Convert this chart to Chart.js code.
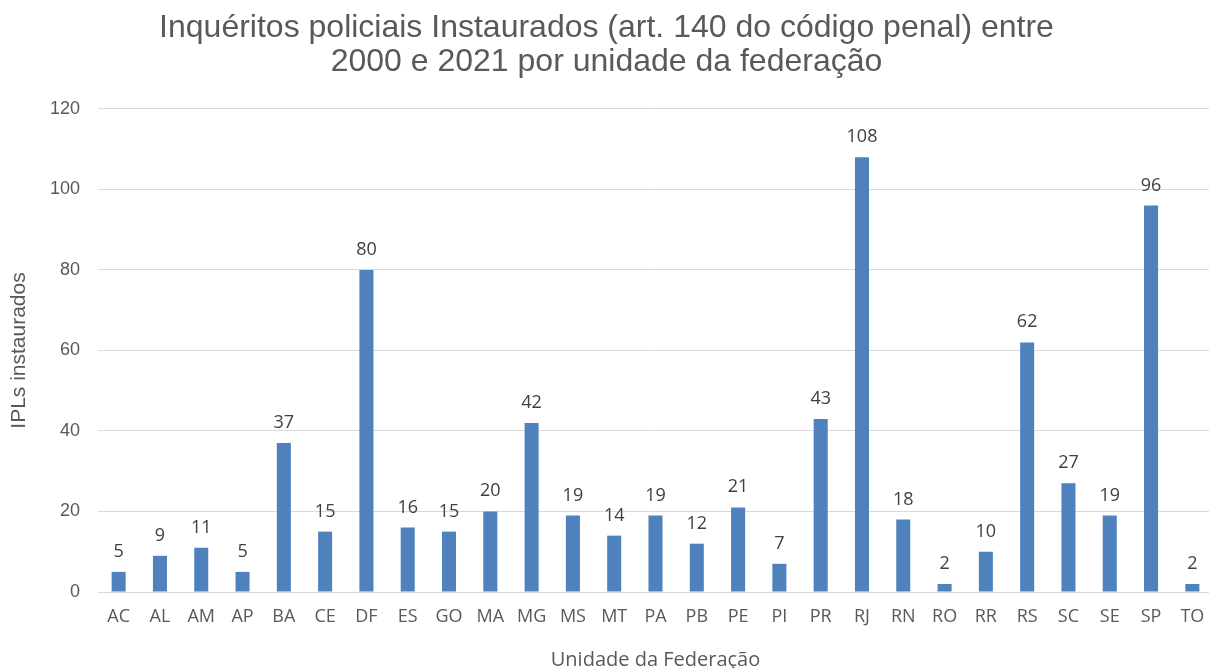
<!DOCTYPE html>
<html>
<head>
<meta charset="utf-8">
<script src="https://cdn.jsdelivr.net/npm/chart.js@4"></script>
<style>
    html, body { margin: 0; padding: 0; background: #ffffff; overflow: hidden; }
    #wrap { width: 1213px; height: 672px; }
</style>
</head>
<body>
<div id="wrap"><canvas id="ufChart"></canvas></div>
<script>
const ufLabels = ["AC", "AL", "AM", "AP", "BA", "CE", "DF", "ES", "GO", "MA", "MG", "MS", "MT", "PA",
    "PB", "PE", "PI", "PR", "RJ", "RN", "RO", "RR", "RS", "SC", "SE", "SP", "TO"];
const iplCounts = [5, 9, 11, 5, 37, 15, 80, 16, 15, 20, 42, 19, 14, 19,
    12, 21, 7, 43, 108, 18, 2, 10, 62, 27, 19, 96, 2];
const yTicks = [0, 20, 40, 60, 80, 100, 120];

// value labels above each bar
const barValues = {
    id: "barValues",
    afterDatasetsDraw(chart) {
        const { ctx } = chart;
        const meta = chart.getDatasetMeta(0);
        ctx.save();
        ctx.fillStyle = "#404040";
        ctx.font = "18px 'Open Sans'";
        ctx.textAlign = "center";
        ctx.textBaseline = "alphabetic";
        meta.data.forEach((bar, i) => {
            ctx.fillText(String(iplCounts[i]), bar.x, bar.y - 15);
        });
        ctx.restore();
    }
};

new Chart(document.getElementById("ufChart"), {
    type: "bar",
    data: {
        labels: ufLabels,
        datasets: [{
            label: "IPLs instaurados",
            data: iplCounts,
            backgroundColor: "#4F81BD",
            categoryPercentage: 1,
            barPercentage: 0.34
        }]
    },
    options: {
        responsive: true,
        maintainAspectRatio: false,
        animation: false,
        layout: { padding: 0 },
        plugins: {
            legend: { display: false },
            tooltip: { enabled: false },
            title: {
                display: true,
                text: ["Inquéritos policiais Instaurados (art. 140 do código penal) entre",
                    "2000 e 2021 por unidade da federação"],
                color: "#595959",
                font: { family: "'Liberation Sans', Arial", size: 32, weight: "normal", lineHeight: 1.07 },
                padding: { top: 11, bottom: 29.5 }
            }
        },
        scales: {
            x: {
                grid: { display: false },
                border: { color: "#D9D9D9", width: 1 },
                ticks: { color: "#595959", font: { family: "'Open Sans'", size: 18 }, padding: 6 },
                title: {
                    display: true,
                    text: "Unidade da Federação",
                    color: "#595959",
                    font: { family: "'Open Sans'", size: 20 },
                    padding: { top: 0, bottom: 0 }
                },
                afterFit(scale) { scale.height = 80; }
            },
            y: {
                min: 0,
                max: 120,
                afterBuildTicks(scale) { scale.ticks = yTicks.map(v => ({ value: v })); },
                grid: { color: "#D9D9D9", drawTicks: false },
                border: { display: false },
                ticks: { color: "#595959", font: { family: "'Liberation Sans', Arial", size: 18 }, padding: 18 },
                title: {
                    display: true,
                    text: "IPLs instaurados",
                    color: "#595959",
                    font: { family: "'Liberation Sans', Arial", size: 21 },
                    padding: 7
                },
                afterFit(scale) { scale.width = 98; }
            }
        }
    },
    plugins: [barValues]
});
</script>
</body>
</html>
